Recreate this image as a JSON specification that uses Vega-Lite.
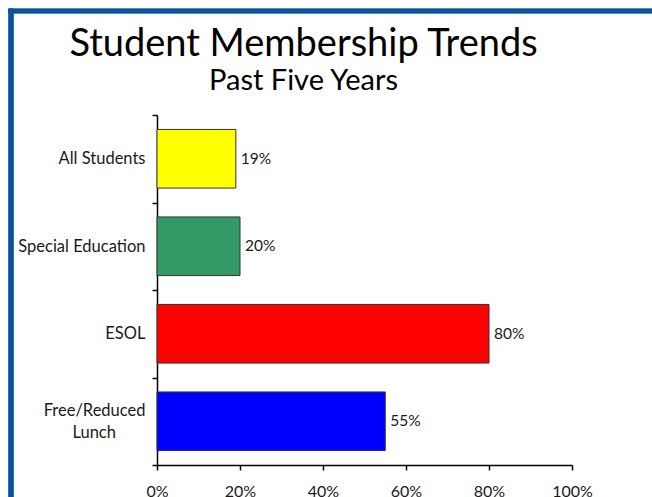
{
  "$schema": "https://vega.github.io/schema/vega-lite/v6.json",
  "autosize": {"type": "none"},
  "padding": {"left": 157, "top": 115, "right": 80, "bottom": 32},
  "width": 415,
  "height": 350,
  "background": "white",
  "config": {
    "font": "Lato",
    "view": {"stroke": null},
    "title": {"font": "Lato", "fontSize": 38, "fontWeight": "normal", "color": "#000000", "subtitleFont": "Lato", "subtitleFontSize": 29, "subtitleColor": "#000000", "subtitlePadding": 3}
  },
  "title": {"text": "Student Membership Trends", "subtitle": "Past Five Years", "anchor": "middle", "frame": "group", "dx": -61, "offset": -88},
  "data": {"values": [
    {"group": "All Students", "share": 0.19, "color": "#ffff00"},
    {"group": "Special Education", "share": 0.20, "color": "#339966"},
    {"group": "ESOL", "share": 0.80, "color": "#ff0000"},
    {"group": "Free/Reduced Lunch", "share": 0.55, "color": "#0000ff"}
  ]},
  "layer": [
    {
      "layer": [
        {
          "mark": {"type": "bar", "stroke": "#333333", "strokeWidth": 1, "height": {"band": 0.67}},
          "encoding": {
            "y": {"field": "group", "type": "nominal", "sort": null, "title": null,
              "scale": {"paddingInner": 0, "paddingOuter": 0},
              "axis": {"tickBand": "extent", "domainColor": "#000000", "domainWidth": 1.5, "tickColor": "#000000", "tickWidth": 1.5, "tickSize": 5, "labelPadding": 7, "labelFontSize": 16.5, "labelColor": "#1a1a1a", "labelLineHeight": 22,
                "labelOffset": {"condition": {"test": "datum.value === 'Free/Reduced Lunch'", "value": -11}, "value": 0},
                "labelExpr": "datum.value == 'Free/Reduced Lunch' ? ['Free/Reduced', 'Lunch\u00a0\u00a0\u00a0\u00a0\u00a0\u00a0\u00a0\u200b'] : datum.value"}},
            "x": {"field": "share", "type": "quantitative", "title": null,
              "scale": {"domain": [0, 1], "nice": false},
              "axis": {"values": [0, 0.2, 0.4, 0.6, 0.8, 1], "format": ".0%", "grid": false, "labelFlush": false, "domainColor": "#000000", "domainWidth": 1.5, "tickColor": "#000000", "tickWidth": 1.5, "tickSize": 5, "labelPadding": 13, "labelFontSize": 16, "labelColor": "#1a1a1a"}},
            "color": {"field": "color", "type": "nominal", "scale": null, "legend": null}
          }
        },
        {
          "mark": {"type": "text", "align": "left", "baseline": "middle", "dx": 5, "fontSize": 15.5, "color": "#1a1a1a"},
          "encoding": {
            "y": {"field": "group", "type": "nominal", "sort": null},
            "x": {"field": "share", "type": "quantitative"},
            "text": {"field": "share", "type": "quantitative", "format": ".0%"}
          }
        }
      ]
    },
    {
      "layer": [
        {
          "mark": {"type": "rule", "clip": false, "color": "#0b539c", "strokeWidth": 4.7, "strokeCap": "square"},
          "encoding": {
            "x": {"datum": -0.3518, "type": "quantitative"},
            "x2": {"datum": 1.4},
            "y": {"datum": 1.2971, "type": "quantitative", "scale": {"domain": [0, 1]}, "axis": null}
          }
        },
        {
          "mark": {"type": "rule", "clip": false, "color": "#0b539c", "strokeWidth": 4.7, "strokeCap": "square"},
          "encoding": {
            "x": {"datum": -0.3518, "type": "quantitative"},
            "y": {"datum": 1.2971, "type": "quantitative", "scale": {"domain": [0, 1]}, "axis": null},
            "y2": {"datum": -0.3}
          }
        }
      ]
    }
  ],
  "resolve": {"scale": {"y": "independent"}, "axis": {"y": "independent"}}
}
